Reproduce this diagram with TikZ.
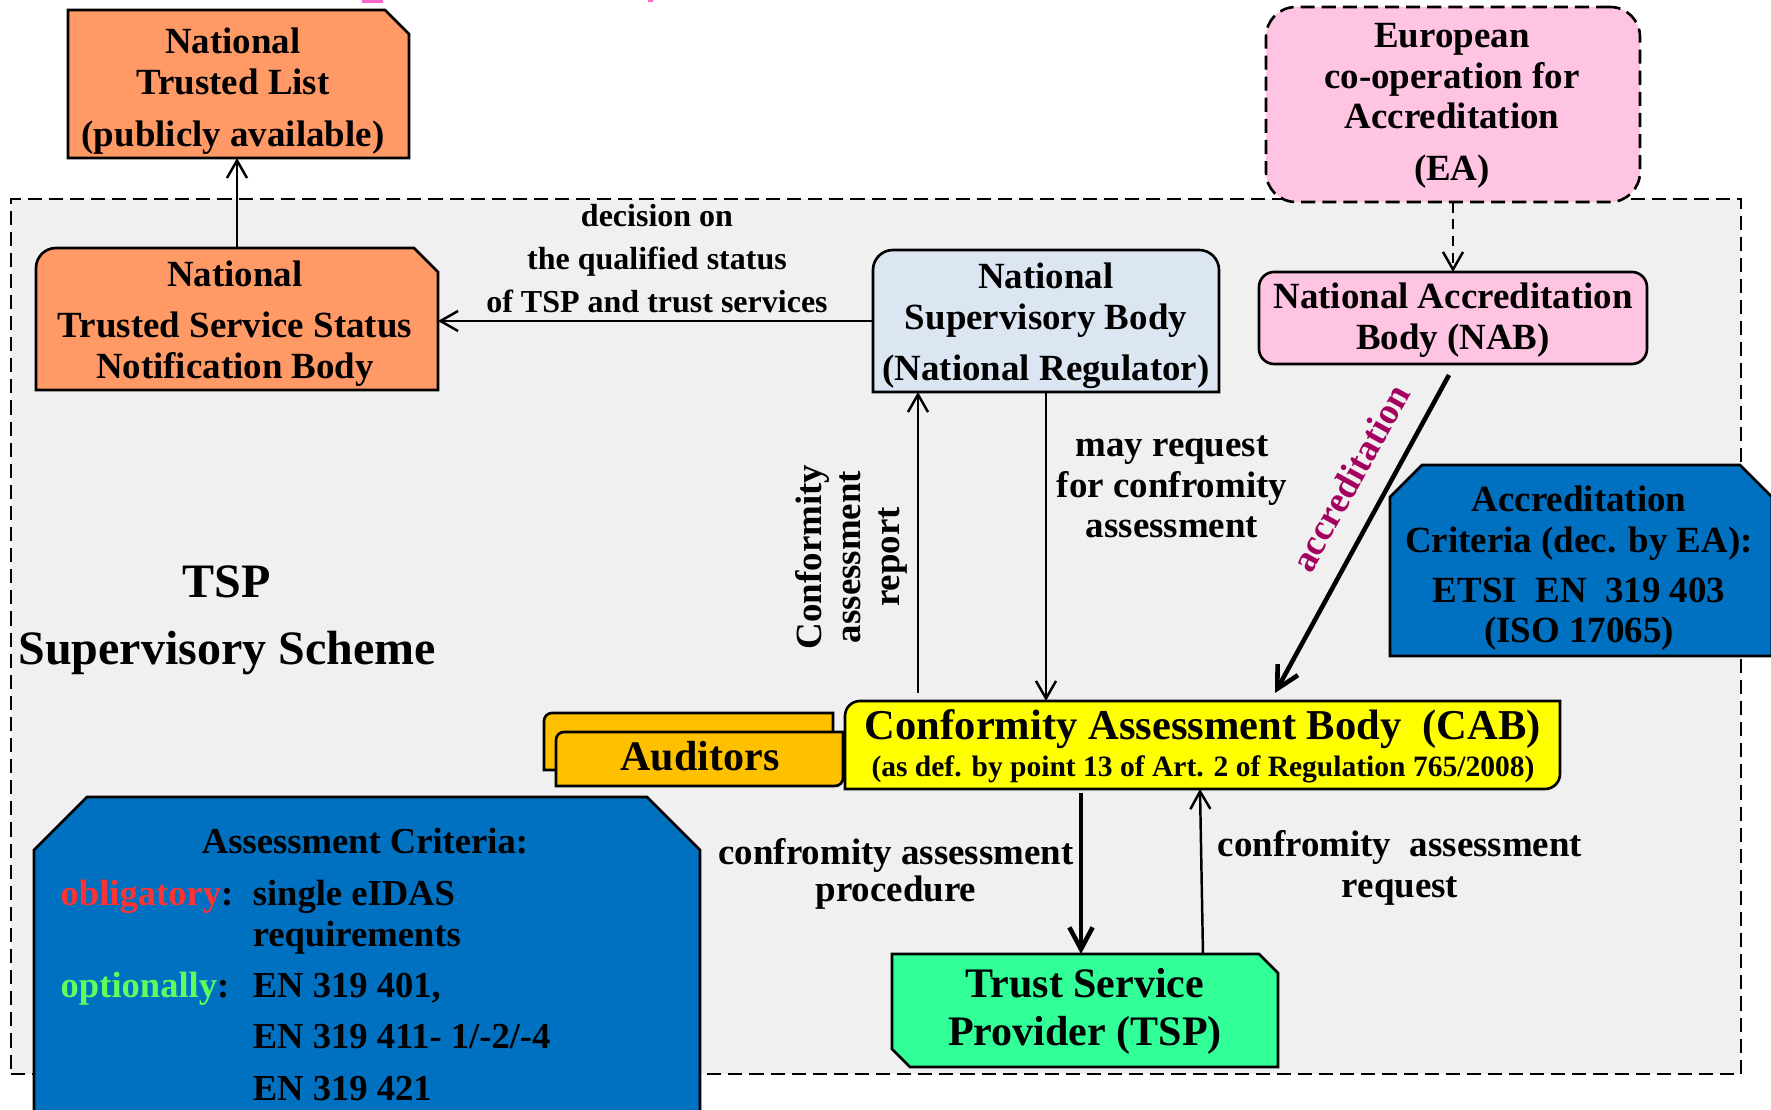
\documentclass[tikz,border=0pt]{standalone}
\usepackage{fontspec}
\setmainfont{Liberation Serif}
\usetikzlibrary{arrows.meta,positioning,calc,fit}
\definecolor{TspGrey}{HTML}{F0F0F0}
\definecolor{TspOrange}{HTML}{FF9966}
\definecolor{TspSky}{HTML}{DCE6F2}
\definecolor{TspPink}{HTML}{FFC4E1}
\definecolor{TspBlue}{HTML}{0070C0}
\definecolor{TspYellow}{HTML}{FFFF00}
\definecolor{TspAmber}{HTML}{FFC000}
\definecolor{TspGreen}{HTML}{33FF99}
\definecolor{TspRed}{HTML}{FF3333}
\definecolor{TspLime}{HTML}{5CFF5C}
\definecolor{TspMagenta}{HTML}{A3005F}
\definecolor{TspTitle}{HTML}{FF66CC}
\newcommand\fs[2]{\fontsize{#1}{#2}\selectfont\bfseries}
\newcommand\txtrows[1]{\begin{tabular}[t]{@{}c@{}}#1\end{tabular}}

\begin{document}
\begin{tikzpicture}[
    x=0.01cm, y=-0.01cm,
    area/.style={inner sep=0pt,outer sep=0pt},
    rim/.style={draw=black,line width=0.75pt},
    dashline/.style={dash pattern=on 4pt off 2pt},
    txt/.style={inner sep=0pt,anchor=base,font=\fs{10.5}{11.4}},
    arr/.style={-{Straight Barb[length=5pt,width=5.7pt]},line width=0.7pt},
    thickarr/.style={-{Straight Barb[length=6.2pt,width=6.6pt]},line width=1.3pt}
  ]
    \useasboundingbox (0,0) rectangle (1771,1110);
    \clip (0,0) rectangle (1771,1110);
    % what is left of the title above
    \fill[TspTitle] (362,0) rectangle (383,3) (648,0) rectangle (653,2);

    % scheme area and boxes
    \node[area,fit={(11,199)(1741,1074)},rim,line width=0.8pt,dashline,fill=TspGrey] (scheme) {};
    \node[area,fit={(68,10)(409,158)}] (ntl) {};
    \node[area,fit={(36,248)(438,390)}] (tssnb) {};
    \node[area,fit={(873,250)(1219,392)}] (nsb) {};
    \node[area,fit={(1266,7)(1640,202)},rim,dashline,fill=TspPink,rounded corners=8.5pt] (ea) {};
    \node[area,fit={(1259,272)(1647,364)},rim,fill=TspPink,rounded corners=4.3pt] (nab) {};
    \node[area,fit={(1390,465)(1772,656)}] (acc) {};
    \node[area,fit={(845,701)(1560,789)}] (cab) {};
    \node[area,fit={(544,713)(833,770)}] (audb) {};
    \node[area,fit={(556,732)(843,786)}] (aud) {};
    \node[area,fit={(34,797)(700,1130)}] (asc) {};
    \node[area,fit={(892,954)(1278,1067)}] (tsp) {};

    \draw[rim,fill=TspOrange] (ntl.south west) -- (ntl.north west) -- ($(ntl.north east)+(-24,0)$)
      -- ($(ntl.north east)+(0,24)$) -- (ntl.south east) -- cycle;
    \draw[rim,fill=TspOrange] (tssnb.south west) -- ($(tssnb.north west)+(0,20)$)
      arc[start angle=180,end angle=270,radius=20] -- ($(tssnb.north east)+(-24,0)$)
      -- ($(tssnb.north east)+(0,24)$) -- (tssnb.south east) -- cycle;
    \draw[rim,fill=TspSky] (nsb.south west) -- ($(nsb.north west)+(0,20)$)
      arc[start angle=180,end angle=270,radius=20] -- ($(nsb.north east)+(-20,0)$)
      arc[start angle=270,end angle=360,radius=20] -- (nsb.south east) -- cycle;
    \draw[rim,fill=TspBlue] (acc.south west) -- ($(acc.north west)+(0,32)$) -- ($(acc.north west)+(32,0)$)
      -- ($(acc.north east)+(-32,0)$) -- ($(acc.north east)+(0,32)$) -- (acc.south east) -- cycle;
    \draw[rim,fill=TspYellow] (cab.south west) -- ($(cab.north west)+(0,15)$)
      arc[start angle=180,end angle=270,radius=15] -- (cab.north east) -- ($(cab.south east)+(0,-15)$)
      arc[start angle=0,end angle=90,radius=15] -- cycle;
    \foreach \a in {audb,aud}
      \draw[rim,fill=TspAmber] (\a.south west) -- ($(\a.north west)+(0,8)$)
        arc[start angle=180,end angle=270,radius=8] -- (\a.north east) -- ($(\a.south east)+(0,-8)$)
        arc[start angle=0,end angle=90,radius=8] -- cycle;
    \draw[rim,fill=TspBlue] (asc.south west) -- ($(asc.north west)+(0,53)$) -- ($(asc.north west)+(53,0)$)
      -- ($(asc.north east)+(-53,0)$) -- ($(asc.north east)+(0,53)$) -- (asc.south east) -- cycle;
    \draw[rim,fill=TspGreen] (tsp.north west) -- ($(tsp.north east)+(-19,0)$) -- ($(tsp.north east)+(0,19)$)
      -- (tsp.south east) -- ($(tsp.south west)+(18,0)$) -- ($(tsp.south west)+(0,-18)$) -- cycle;

    % connectors
    \draw[arr] (tssnb.north) -- (tssnb.north |- ntl.south);
    \draw[arr] (nsb.west) -- (nsb.west -| tssnb.east);
    \draw[arr,dash pattern=on 3pt off 1.8pt] (ea.south) -- (nab.north);
    \draw[thickarr] ($(nab.south)+(-4,11)$) -- ($(cab.north west)+(430,-8)$);
    \draw[arr] ($(cab.north west)+(73,-8)$) -- ($(nsb.south west)+(45,0)$);
    \draw[arr] (nsb.south) -- (nsb.south |- cab.north);
    \draw[thickarr] ($(cab.south west)+(236,4)$) -- ($(tsp.north west)+(189,0)$);
    \draw[arr] ($(tsp.north west)+(311,0)$) -- ($(cab.south west)+(355,0)$);

    % texts
    \node[txt] (ntl-t) at (233,54) {\txtrows{National\\Trusted List\\[3.4pt](publicly available)}};
    \node[txt] (tssnb-t) at (235,287) {\txtrows{National\\[3.1pt]Trusted Service Status\\Notification Body}};
    \node[txt] (nsb-t) at (1046,289) {\txtrows{National\\Supervisory Body\\[3.1pt](National Regulator)}};
    \node[txt] (ea-t) at (1452,48) {\txtrows{European\\co-operation for\\Accreditation\\[3.4pt](EA)}};
    \node[txt] (nab-t) at (1453,309) {\txtrows{National Accreditation\\Body (NAB)}};
    \node[txt] (acc-t) at (1579,512) {\txtrows{Accreditation\\Criteria (dec. by EA):\\[2.8pt]ETSI\ \ EN\ \ 319 403\\(ISO 17065)}};
    \node[txt,font=\fs{12.1}{10.5}] (cab-t) at (1203,740)
      {\txtrows{Conformity Assessment Body\ \ (CAB)\\{\fs{8.4}{10.5}(as def. by point 13 of Art. 2 of Regulation 765/2008)}}};
    \node[txt,font=\fs{11.95}{13.4}] (aud-t) at (700,771) {Auditors};
    \node[txt,font=\fs{11.95}{13.4}] (tsp-t) at (1085,998) {\txtrows{Trust Service\\Provider (TSP)}};
    \node[txt,font=\fs{13.65}{18.8}] (scheme-t) at (227,598) {\txtrows{TSP\\Supervisory Scheme}};
    \node[txt,font=\fs{9.1}{12.2}] (dec-t) at (657,227) {\txtrows{decision on\\the qualified status\\of TSP and trust services}};
    \node[txt] (may-t) at (1172,457) {\txtrows{may request\\for confromity\\assessment}};
    \node[txt,rotate=90,font=\fs{10.5}{11.2}] (rep-t) at (821,557) {\txtrows{Conformity\\assessment\\report}};
    \node[txt,font=\fs{10.5}{10.5}] (proc-t) at (896,865) {\txtrows{confromity assessment\\procedure}};
    \node[txt] (rq-t) at (1400,857) {\txtrows{confromity\ \ assessment\\request}};
    \node[txt,anchor=center,rotate=61,text=TspMagenta] (accr-t) at (1350,478) {accreditation};
    \node[txt,font=\fs{10.4}{11.4}] (asc-h) at (365,854) {Assessment Criteria:};
    \node[txt,anchor=base west,font=\fs{10.4}{11.4}] (asc-t) at (60,906) {%
      \begin{tabular}[t]{@{}p{1.92cm}@{}l@{}}
        \textcolor{TspRed}{obligatory}: & single eIDAS\\
                                        & requirements\\[3.1pt]
        \textcolor{TspLime}{optionally}: & EN 319 401,\\[3.1pt]
                                         & EN 319 411- 1/-2/-4\\[3.4pt]
                                         & EN 319 421
      \end{tabular}};
  \end{tikzpicture}
\end{document}
